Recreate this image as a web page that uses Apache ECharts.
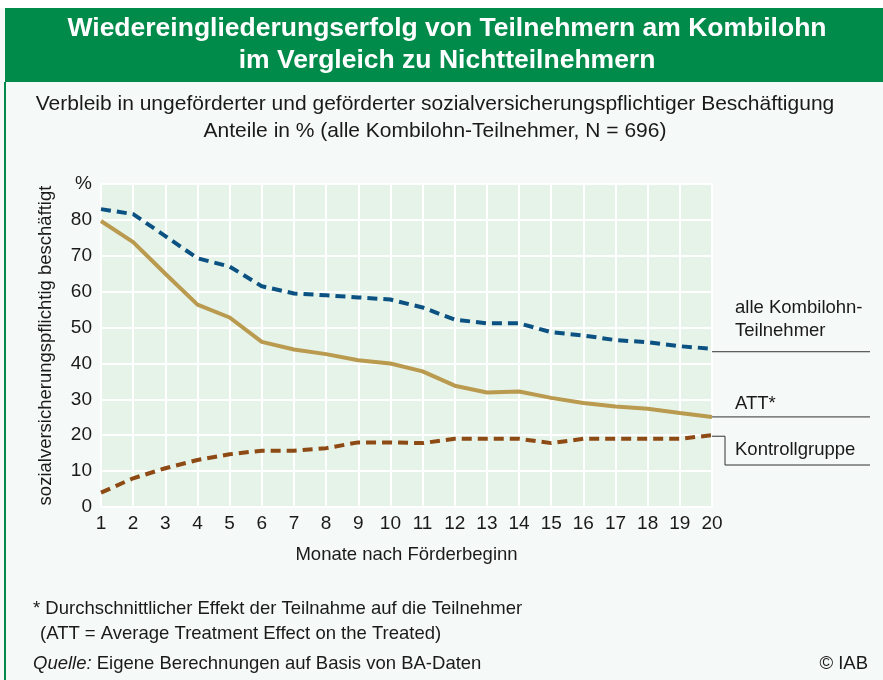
<!DOCTYPE html>
<html>
<head>
<meta charset="utf-8">
<script src="https://cdn.jsdelivr.net/npm/echarts@6/dist/echarts.min.js"></script>
<style>
  html, body { margin: 0; padding: 0; background: #fff; }
  #chart { width: 883px; height: 680px; }
</style>
</head>
<body>
<div id="chart"></div>
<script>
// Monate nach Förderbeginn
const months = [1, 2, 3, 4, 5, 6, 7, 8, 9, 10, 11, 12, 13, 14, 15, 16, 17, 18, 19, 20];
// alle Kombilohn-Teilnehmer
const alleTeilnehmer = [83, 81.6, 75.5, 69.3, 67, 61.5, 59.5, 59, 58.4, 57.8, 55.6, 52.2, 51.2, 51.2, 48.7, 47.8, 46.5, 45.9, 44.8, 44.1];
// ATT*
const att = [79.7, 73.8, 65, 56.4, 52.8, 46, 43.9, 42.6, 40.9, 40, 37.8, 33.8, 31.9, 32.2, 30.4, 29, 28, 27.4, 26.2, 25.1];
// Kontrollgruppe
const kontrollgruppe = [4, 8, 10.8, 13.1, 14.7, 15.7, 15.7, 16.4, 18, 18, 17.8, 19, 19, 19, 17.8, 19, 19, 19, 19, 20];

const font = "'Liberation Sans', Arial, sans-serif";
const textColor = "#1a1a1a";

const pairs = arr => arr.map((v, i) => [months[i], v]);

const chart = echarts.init(document.getElementById("chart"));

const option = {
  backgroundColor: "#f5f9f7",
  animation: false,
  textStyle: { fontFamily: font },
  grid: {
    left: 101, right: 171, top: 184, bottom: 173,
    show: true, backgroundColor: "#e6f3e8", borderWidth: 0,
  },
  xAxis: {
    type: "value", min: 1, max: 20, interval: 1,
    name: "Monate nach Förderbeginn", nameLocation: "middle", nameGap: 38,
    nameTextStyle: { fontSize: 18.5, color: textColor, fontFamily: font },
    axisLine: { show: false }, axisTick: { show: false },
    axisLabel: { fontSize: 19, color: textColor, margin: 7, fontFamily: font },
    splitLine: { show: true, lineStyle: { color: "#ffffff", width: 2 } },
  },
  yAxis: {
    type: "value", min: 0, max: 90, interval: 10,
    name: "sozialversicherungspflichtig beschäftigt", nameLocation: "middle", nameGap: 46,
    nameTextStyle: { fontSize: 18.5, color: textColor, fontFamily: font },
    axisLine: { show: false }, axisTick: { show: false },
    axisLabel: {
      fontSize: 19, color: textColor, margin: 9, fontFamily: font,
      formatter: v => (v === 90 ? "%" : String(v)),
    },
    splitLine: { show: true, lineStyle: { color: "#ffffff", width: 2 } },
  },
  series: [
    {
      name: "alle Kombilohn-Teilnehmer", type: "line", data: pairs(alleTeilnehmer),
      showSymbol: false, lineStyle: { color: "#0b5282", width: 4, type: [10, 6] },
    },
    {
      name: "ATT*", type: "line", data: pairs(att),
      showSymbol: false, lineStyle: { color: "#b99a4f", width: 4 },
    },
    {
      name: "Kontrollgruppe", type: "line", data: pairs(kontrollgruppe),
      showSymbol: false, lineStyle: { color: "#8d4a14", width: 4, type: [10, 6] },
    },
  ],
};
chart.setOption(option);

// annotation lines and texts, anchored at the last point of each series
const last = months.length - 1;
const pBlue = chart.convertToPixel({ gridIndex: 0 }, [months[last], alleTeilnehmer[last]]);
const pAtt = chart.convertToPixel({ gridIndex: 0 }, [months[last], att[last]]);
const pKon = chart.convertToPixel({ gridIndex: 0 }, [months[last], kontrollgruppe[last]]);
const lineEnd = 870;
const leader = { stroke: "#333", lineWidth: 1 };

const txt = (x, y, s, extra) => ({
  type: "text", x, y,
  style: Object.assign({ text: s, fill: textColor, font: "18.5px " + font, textVerticalAlign: "middle" }, extra || {}),
});

chart.setOption({
  graphic: [
    // header band
    { type: "rect", shape: { x: 0, y: 0, width: 883, height: 8 }, style: { fill: "#ffffff" } },
    { type: "rect", shape: { x: 5, y: 8, width: 878, height: 74 }, style: { fill: "#008b4b" } },
    { type: "rect", shape: { x: 4, y: 82, width: 2, height: 598 }, style: { fill: "#008b4b" } },
    txt(447, 29, "Wiedereingliederungserfolg von Teilnehmern am Kombilohn",
      { fill: "#fff", font: "bold 26.5px " + font, textAlign: "center" }),
    txt(447, 61, "im Vergleich zu Nichtteilnehmern",
      { fill: "#fff", font: "bold 26.5px " + font, textAlign: "center" }),
    txt(435, 104, "Verbleib in ungeförderter und geförderter sozialversicherungspflichtiger Beschäftigung",
      { font: "21px " + font, textAlign: "center" }),
    txt(435, 131, "Anteile in % (alle Kombilohn-Teilnehmer, N = 696)",
      { font: "21px " + font, textAlign: "center" }),
    // series labels
    { type: "line", shape: { x1: pBlue[0], y1: pBlue[1] + 3, x2: lineEnd, y2: pBlue[1] + 3 }, style: leader },
    txt(735, 308, "alle Kombilohn-"),
    txt(735, 331, "Teilnehmer"),
    { type: "line", shape: { x1: pAtt[0], y1: pAtt[1], x2: lineEnd, y2: pAtt[1] }, style: leader },
    txt(735, 404, "ATT*"),
    { type: "polyline", shape: { points: [[pKon[0], pKon[1] + 1], [725, pKon[1] + 1], [725, 465], [lineEnd, 465]] }, style: Object.assign({ fill: null }, leader) },
    txt(735, 450, "Kontrollgruppe"),
    // footnotes
    txt(33, 609, "* Durchschnittlicher Effekt der Teilnahme auf die Teilnehmer"),
    txt(40, 634, "(ATT = Average Treatment Effect on the Treated)"),
    {
      type: "text", x: 33, y: 664,
      style: {
        text: "{i|Quelle:} Eigene Berechnungen auf Basis von BA-Daten",
        fill: textColor, font: "18.5px " + font, textVerticalAlign: "middle",
        rich: { i: { fontStyle: "italic", fontSize: 18.5, fontFamily: font, fill: textColor } },
      },
    },
    txt(868, 664, "© IAB", { textAlign: "right" }),
  ],
});
</script>
</body>
</html>
